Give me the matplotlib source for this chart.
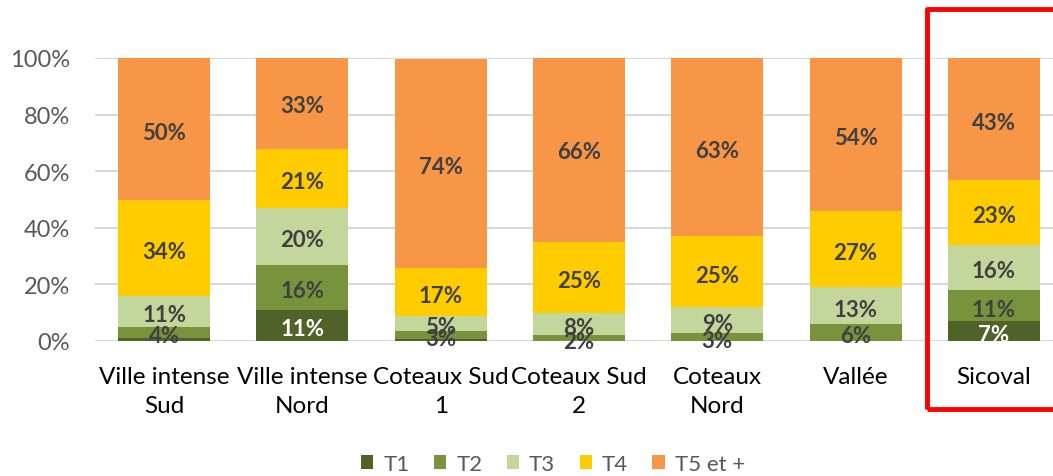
import matplotlib.pyplot as plt
from matplotlib.patches import Rectangle

plt.rcParams["font.family"] = ["Lato", "DejaVu Sans"]

# Data
categories = ["Ville intense\nSud", "Ville intense\nNord", "Coteaux Sud\n1",
              "Coteaux Sud\n2", "Coteaux\nNord", "Vallée", "Sicoval"]
t1 = [1, 11, 0.7, 0, 0, 0, 7]
t2 = [4, 16, 3, 2, 3, 6, 11]
t3 = [11, 20, 5, 8, 9, 13, 16]
t4 = [34, 21, 17, 25, 25, 27, 23]
t5 = [50, 33, 74, 66, 63, 54, 43]
series_names = ["T1", "T2", "T3", "T4", "T5 et +"]

colors = ["#4F6228", "#77933C", "#C3D69B", "#FFCC00", "#F79646"]
label_colors = ["white", "#404040", "#404040", "#404040", "#404040"]

fig = plt.figure(figsize=(10.53, 4.77), dpi=100)
ax = fig.add_axes([95 / 1053, 135 / 477, 968 / 1053, 283 / 477])

x = range(len(categories))
bottom = [0] * len(categories)
for name, vals, col, lcol in zip(series_names, [t1, t2, t3, t4, t5], colors, label_colors):
    ax.bar(x, vals, bottom=bottom, width=0.665, color=col, label=name, zorder=2)
    for i, v in enumerate(vals):
        if v > 1:
            ax.text(i, bottom[i] + v / 2 - 1.2, f"{v:.0f}%", ha="center", va="center",
                    fontsize=16, fontweight="bold", color=lcol, zorder=3)
    bottom = [b + v for b, v in zip(bottom, vals)]

ax.set_xlim(-0.5, 6.5)
ax.set_ylim(0, 100)
ax.set_yticks(range(0, 101, 20))
ax.set_yticklabels([f"{v}%" for v in range(0, 101, 20)])
ax.set_xticks(list(x))
ax.set_xticklabels(categories, linespacing=1.45)

ax.tick_params(axis="y", length=0, pad=18, labelsize=17, labelcolor="#595959")
ax.tick_params(axis="x", length=0, pad=18, labelsize=17.5, labelcolor="black")

ax.grid(axis="y", color="#D9D9D9", linewidth=1.5, zorder=0)
for s in ["top", "right", "left", "bottom"]:
    ax.spines[s].set_visible(False)

# Legend at the bottom
leg = fig.legend(loc="center", bbox_to_anchor=(553 / 1053, 1 - 465 / 477), ncol=5,
                 frameon=False, fontsize=16, handlelength=0.55, handleheight=0.55,
                 handletextpad=0.45, columnspacing=1.1)
for t in leg.get_texts():
    t.set_color("#595959")

# Red highlight box around Sicoval
fig.patches.append(Rectangle((927 / 1053, 1 - 410 / 477), 200 / 1053, 400 / 477,
                             transform=fig.transFigure, fill=False, edgecolor="red",
                             linewidth=3.5, joinstyle="round", clip_on=False))

fig.savefig("out.png", dpi=100)
